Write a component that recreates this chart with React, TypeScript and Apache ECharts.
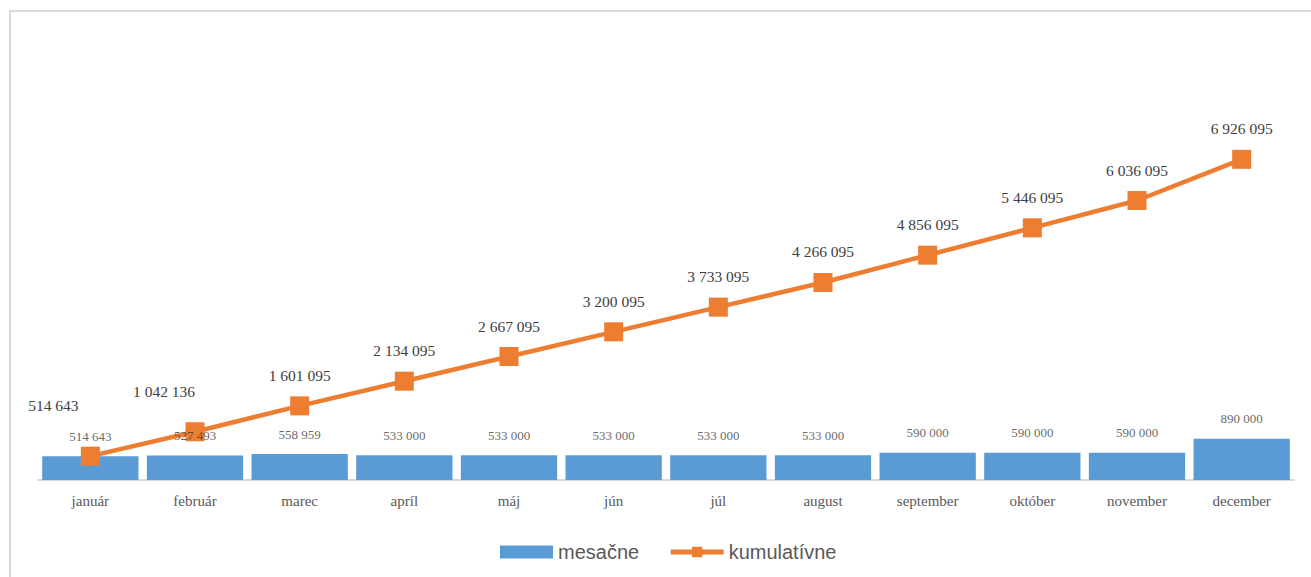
import React, { useEffect, useRef } from "react";
import * as echarts from "echarts";

const months = ["január", "február", "marec", "apríl", "máj", "jún", "júl", "august", "september", "október", "november", "december"];
const monthly = [514643, 527493, 558959, 533000, 533000, 533000, 533000, 533000, 590000, 590000, 590000, 890000];
const cumulative = [514643, 1042136, 1601095, 2134095, 2667095, 3200095, 3733095, 4266095, 4856095, 5446095, 6036095, 6926095];
const seriesNames = ["mesačne", "kumulatívne"];

const fmt = (v: number) => String(v).replace(/\B(?=(\d{3})+(?!\d))/g, " ");

const SERIF = "Times New Roman";

export default function App() {
  const ref = useRef<HTMLDivElement>(null);
  useEffect(() => {
    if (!ref.current) return;
    const chart = echarts.init(ref.current, undefined, { renderer: "svg" });
    const lineOffsets: Record<number, [number, number]> = { 0: [-37, -20], 1: [-31, -10] };
    chart.setOption({
      animation: false,
      graphic: [
        {
          type: "rect",
          shape: { x: 10, y: 11, width: 1400, height: 700 },
          style: { fill: "none", stroke: "#d9d9d9", lineWidth: 2 },
          silent: true,
          z: -1,
        },
      ],
      grid: { left: 38, right: 17, top: 17, bottom: 97 },
      legend: {
        left: 495,
        top: 537,
        itemWidth: 53,
        itemHeight: 13,
        itemGap: 29,
        textStyle: { fontFamily: "Liberation Sans", fontSize: 20, color: "#595959" },
        data: [
          { name: seriesNames[0], icon: "rect" },
          { name: seriesNames[1], lineStyle: { width: 5 } },
        ],
      },
      xAxis: {
        type: "category",
        data: months,
        axisTick: { show: false },
        axisLine: { lineStyle: { color: "#d9d9d9", width: 2 } },
        axisLabel: { fontFamily: SERIF, fontSize: 15, color: "#595959", margin: 13 },
      },
      yAxis: {
        type: "value",
        min: 0,
        max: 10000000,
        show: false,
        splitLine: { show: false },
      },
      series: [
        {
          name: seriesNames[0],
          type: "bar",
          data: monthly,
          barCategoryGap: "8%",
          itemStyle: { color: "#5b9bd5" },
          z: 2,
        },
        {
          name: seriesNames[1],
          type: "line",
          data: cumulative.map((v, i) =>
            lineOffsets[i] ? { value: v, label: { offset: lineOffsets[i] } } : v
          ),
          symbol: "rect",
          symbolSize: 19,
          lineStyle: { color: "#ed7d31", width: 4.5 },
          itemStyle: { color: "#ed7d31" },
          label: {
            show: true,
            position: "top",
            distance: 13,
            fontFamily: SERIF,
            fontSize: 15.5,
            color: "#404040",
            formatter: (p: any) => fmt(p.value),
          },
          z: 3,
        },
        {
          name: "barLabels",
          type: "scatter",
          data: monthly,
          symbolSize: 1,
          itemStyle: { color: "transparent" },
          silent: true,
          label: {
            show: true,
            position: "top",
            distance: 13,
            fontFamily: SERIF,
            fontSize: 13,
            color: "#404040",
            formatter: (p: any) => fmt(p.value),
          },
          z: 5,
        },
      ],
    });
    return () => chart.dispose();
  }, []);
  return <div ref={ref} style={{ position: "absolute", left: 0, top: 0, width: 1311, height: 577 }} />;
}
